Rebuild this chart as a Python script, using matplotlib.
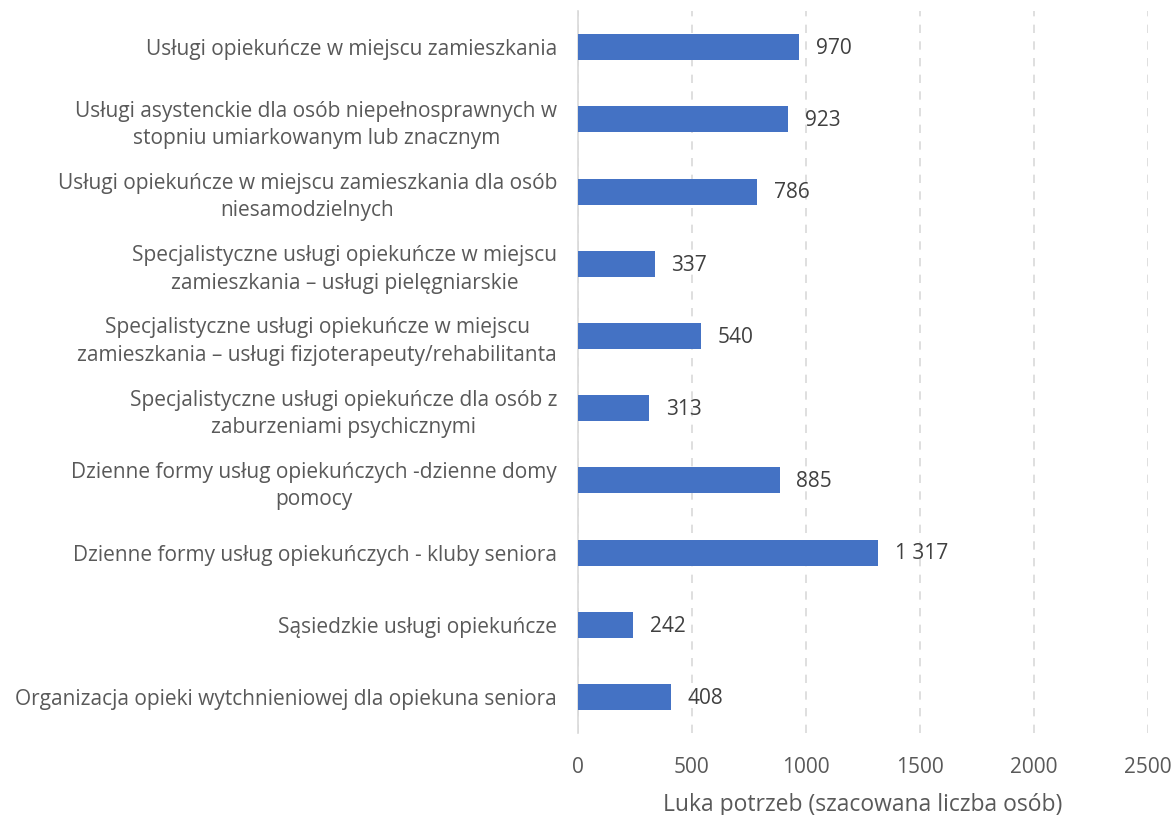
import matplotlib
matplotlib.use("Agg")
import matplotlib.pyplot as plt

categories = [
    "Usługi opiekuńcze w miejscu zamieszkania",
    "Usługi asystenckie dla osób niepełnosprawnych w\nstopniu umiarkowanym lub znacznym",
    "Usługi opiekuńcze w miejscu zamieszkania dla osób\nniesamodzielnych",
    "Specjalistyczne usługi opiekuńcze w miejscu\nzamieszkania – usługi pielęgniarskie",
    "Specjalistyczne usługi opiekuńcze w miejscu\nzamieszkania – usługi fizjoterapeuty/rehabilitanta",
    "Specjalistyczne usługi opiekuńcze dla osób z\nzaburzeniami psychicznymi",
    "Dzienne formy usług opiekuńczych -dzienne domy\npomocy",
    "Dzienne formy usług opiekuńczych - kluby seniora",
    "Sąsiedzkie usługi opiekuńcze",
    "Organizacja opieki wytchnieniowej dla opiekuna seniora",
]
values = [970, 923, 786, 337, 540, 313, 885, 1317, 242, 408]
x_ticks = [0, 500, 1000, 1500, 2000, 2500]
x_label = "Luka potrzeb (szacowana liczba osób)"

plt.rcParams['font.family'] = ['Open Sans', 'DejaVu Sans']

fig = plt.figure(figsize=(11.76, 8.15), dpi=100)
ax = fig.add_axes([0.4915, 0.1006, 0.4845, 0.8859])

pos = list(range(len(categories)))
ax.barh(pos, values, height=0.36, color="#4472C4", zorder=3)
ax.set_ylim(len(categories) - 0.5, -0.5)
ax.set_xlim(0, 2500)

for p, v in zip(pos, values):
    txt = f"{v:,}".replace(",", " ")
    ax.annotate(txt, xy=(v, p), xytext=(12, -1), textcoords="offset points",
                ha="left", va="center", fontsize=15, color="#404040", zorder=4)

ax.set_yticks(pos)
ax.set_yticklabels(categories, fontsize=15, color="#595959",
                   multialignment="center", linespacing=1.4)
ax.set_xticks(x_ticks)
ax.set_xticklabels([str(t) for t in x_ticks], fontsize=15, color="#595959")
ax.tick_params(axis="both", length=0)
ax.tick_params(axis="y", pad=15)
ax.tick_params(axis="x", pad=17)

ax.xaxis.grid(True, color="#D9D9D9", linestyle=(0, (5, 5)), linewidth=1.2, zorder=0)
for s in ["top", "right", "bottom"]:
    ax.spines[s].set_visible(False)
ax.spines["left"].set_color("#D9D9D9")
ax.spines["left"].set_linewidth(1.2)
ax.set_xlabel(x_label, fontsize=16.5, color="#595959", labelpad=11)

fig.savefig("out.png", dpi=100)
